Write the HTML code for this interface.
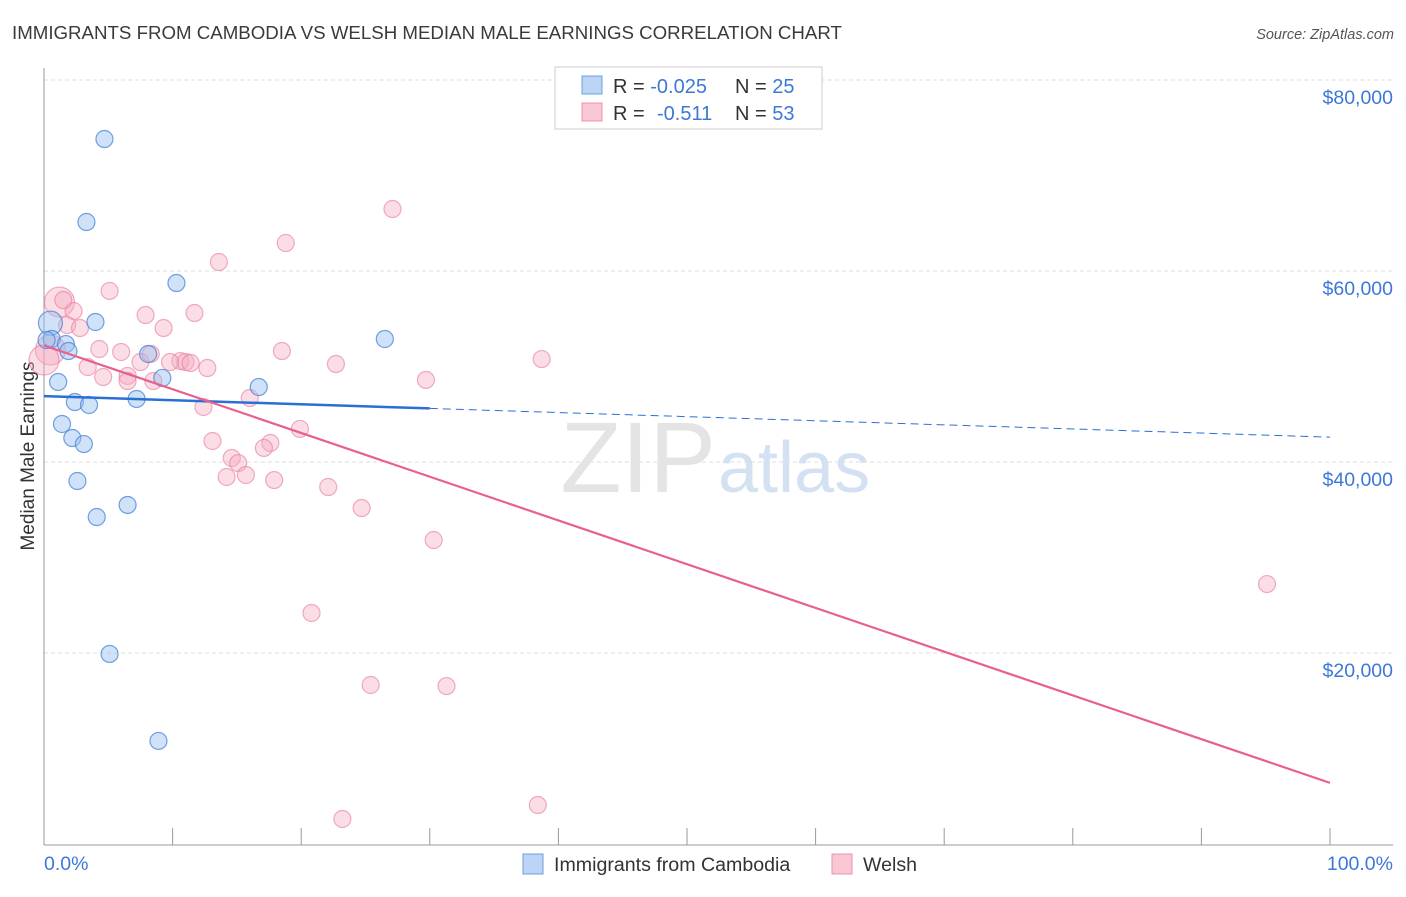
<!DOCTYPE html>
<html><head><meta charset="utf-8"><style>
body{margin:0;background:#fff;font-family:"Liberation Sans",sans-serif}
svg text{font-family:"Liberation Sans",sans-serif}
</style></head><body>
<svg width="1406" height="892" viewBox="0 0 1406 892">
<text x="12" y="39" font-size="18.7" fill="#3a3a3a">IMMIGRANTS FROM CAMBODIA VS WELSH MEDIAN MALE EARNINGS CORRELATION CHART</text>
<text x="1394" y="39" font-size="14.5" fill="#555" text-anchor="end" font-style="italic">Source: ZipAtlas.com</text>
<g id="grid"></g>
<text x="716" y="492" font-size="100" fill="#e4e4e4" text-anchor="end" font-family="Liberation Serif">ZIP</text>
<text x="718" y="492" font-size="72" fill="#d3e1f3">atlas</text>
<line x1="44" y1="68" x2="44" y2="845" stroke="#999"/>
<line x1="44" y1="845" x2="1393" y2="845" stroke="#999"/>
<text transform="translate(34,456) rotate(-90)" font-size="19" fill="#333" text-anchor="middle">Median Male Earnings</text>
<text x="44" y="870" font-size="19.5" fill="#3d78d8">0.0%</text>
<text x="1393" y="870" font-size="19.5" fill="#3d78d8" text-anchor="end">100.0%</text>
<g id="ticks"></g>
<g id="points"></g>
<g id="lines"></g>
<g>
<rect x="555" y="67" width="267" height="62" fill="#fff" stroke="#ccc"/>
<rect x="582" y="76" width="20" height="18" fill="#bcd4f5" stroke="#6b9fe0"/>
<rect x="582" y="103" width="20" height="18" fill="#f9c6d4" stroke="#ec93ae"/>
<text x="613" y="93" font-size="20" fill="#333">R = <tspan fill="#3d78d8">-0.025</tspan><tspan x="735">N = </tspan><tspan fill="#3d78d8">25</tspan></text>
<text x="613" y="120" font-size="20" fill="#333">R = <tspan fill="#3d78d8" x="657">-0.511</tspan><tspan x="735">N = </tspan><tspan fill="#3d78d8">53</tspan></text>
</g>
<g>
<rect x="523" y="854" width="20" height="20" fill="#bcd4f5" stroke="#6b9fe0"/>
<text x="554" y="871" font-size="19.6" fill="#333">Immigrants from Cambodia</text>
<rect x="832" y="854" width="20" height="20" fill="#f9c6d4" stroke="#ec93ae"/>
<text x="863" y="871" font-size="19.6" fill="#333">Welsh</text>
</g>
</svg>
<script>
const yTicks=[20000,40000,60000,80000];
const yTickLabels=["$20,000","$40,000","$60,000","$80,000"];
const xTicks=[0,10,20,30,40,50,60,70,80,90,100];
const blueX=[4.7,3.3,10.3,4.0,26.5,0.5,0.6,1.7,1.9,8.1,1.1,9.2,16.7,7.2,2.4,3.5,1.4,2.2,3.1,2.6,6.5,4.1,5.1,8.9,0.2];
const blueY=[73820,65130,58740,54660,52880,54550,52880,52350,51620,51310,48380,48800,47850,46600,46280,45970,43980,42510,41880,38010,35500,34240,19900,10790,52770];
const pinkX=[27.1,18.8,13.6,5.1,1.2,2.3,7.9,11.7,9.3,1.8,2.8,0.5,18.5,4.3,6.0,7.5,22.7,38.7,10.6,11.0,9.8,11.4,12.7,3.4,4.6,6.5,8.5,6.5,29.7,12.4,16.0,17.6,13.1,19.9,14.6,15.1,17.1,14.2,15.7,17.9,22.1,24.7,30.3,20.8,25.4,31.3,23.2,38.4,95.1,1.5,8.3,0];
const pinkY=[66490,62930,60940,57910,56750,55810,55390,55600,54030,54340,54030,51730,51620,51830,51520,50470,50260,50780,50570,50470,50470,50370,49840,49950,48900,49010,48480,48480,48590,45760,46700,41990,42200,43460,40420,39890,41470,38430,38640,38110,37380,35180,31830,24190,16650,16540,2620,4080,27220,56960,51310,50680];
const blueFit=[46900,42600];
const pinkFit=[52200,6400];
const NS="http://www.w3.org/2000/svg";
function sx(p){return 44+p*12.86;}
function sy(v){return 844-v*191/20000;}
function mk(tag,attrs,parent){const e=document.createElementNS(NS,tag);for(const k in attrs)e.setAttribute(k,attrs[k]);document.getElementById(parent).appendChild(e);return e;}
yTicks.forEach((v,i)=>{
 const l=mk('line',{x1:44,x2:1393,y1:sy(v),y2:sy(v),stroke:'#ddd','stroke-dasharray':'4,3'},'grid');
 
 
 const t=mk('text',{x:1393,y:sy(v)+24,'font-size':19.5,fill:'#3d78d8','text-anchor':'end'},'grid');
 t.textContent=yTickLabels[i];
 
 
});
xTicks.forEach(p=>{
 const l=mk('line',{x1:sx(p),x2:sx(p),y1:828,y2:845,stroke:'#999'},'ticks');
 
 
});
function big(x,y){return x<1.3&&(y>50000&&y<57000);}
pinkX.forEach((x,i)=>{
 const c=mk('circle',{cx:sx(x),cy:sy(pinkY[i]),r:big(x,pinkY[i])?15:8.5,fill:'rgba(244,170,192,0.4)',stroke:'rgba(232,120,155,0.6)','stroke-width':1.2},'points');
 
 
});
blueX.forEach((x,i)=>{
 const c=mk('circle',{cx:sx(x),cy:sy(blueY[i]),r:(x<0.6&&blueY[i]>54000)?12:8.5,fill:'rgba(150,190,238,0.45)',stroke:'rgba(70,130,215,0.75)','stroke-width':1.2},'points');
 
 
});
const by=p=>blueFit[0]+(blueFit[1]-blueFit[0])*p/100;
let l=mk('line',{x1:sx(0),y1:sy(by(0)),x2:sx(30),y2:sy(by(30)),stroke:'#2a6fd6','stroke-width':2.5},'lines');


l=mk('line',{x1:sx(30),y1:sy(by(30)),x2:sx(100),y2:sy(by(100)),stroke:'#2a6fd6','stroke-width':1,'stroke-dasharray':'8,5'},'lines');


l=mk('line',{x1:sx(0),y1:sy(pinkFit[0]),x2:sx(100),y2:sy(pinkFit[1]),stroke:'#e8608e','stroke-width':2.2},'lines');


</script>
</body></html>
